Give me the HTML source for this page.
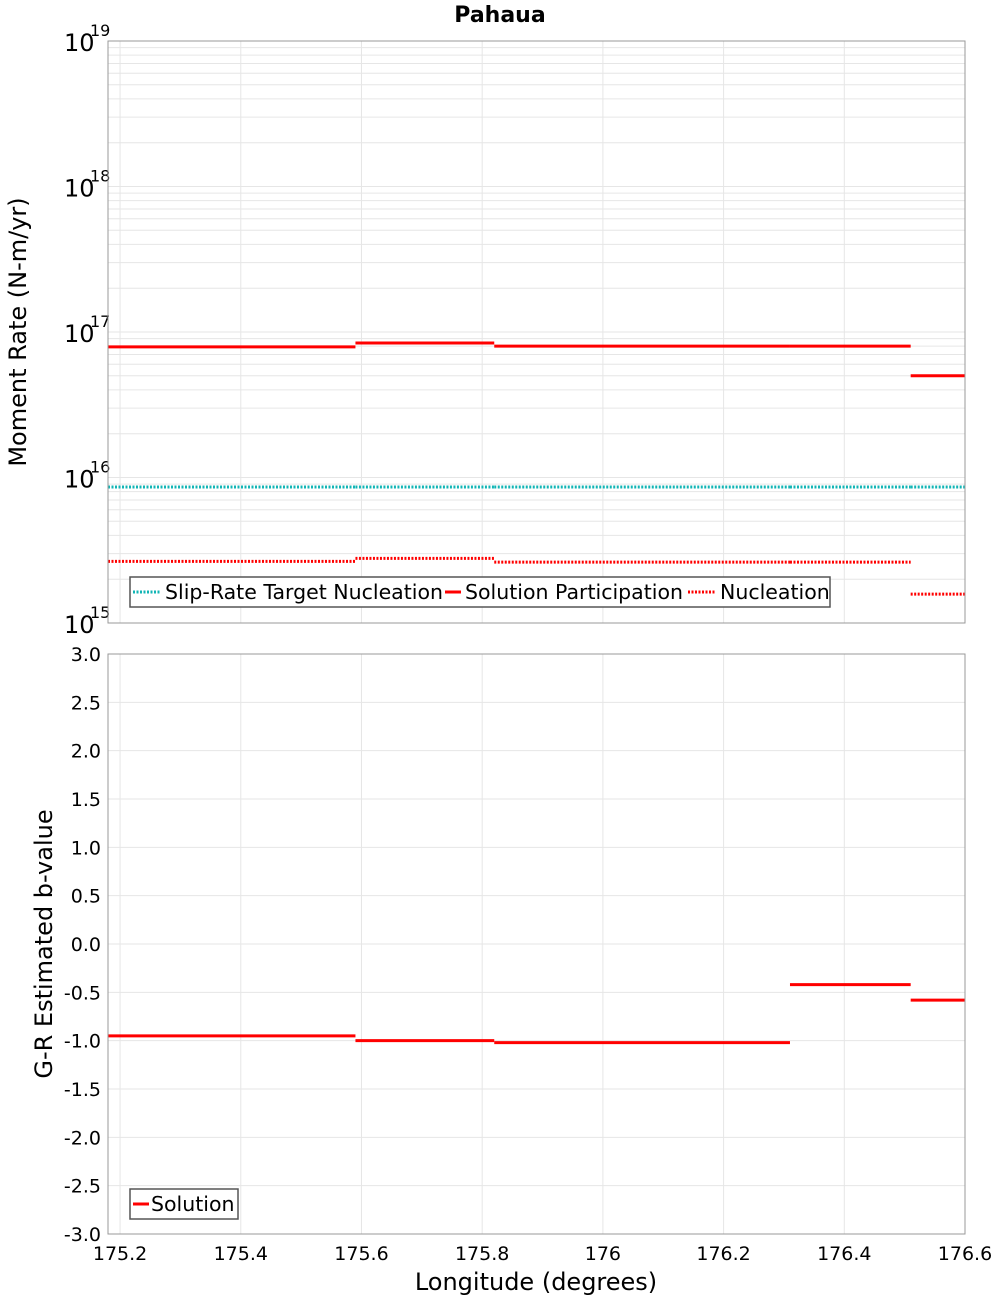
<!DOCTYPE html>
<html><head><meta charset="utf-8"><style>
body{margin:0;background:#fff;font-family:"DejaVu Sans","Liberation Sans",sans-serif}
svg{display:block}
</style></head><body>
<svg id="chart" width="1000" height="1300" xmlns="http://www.w3.org/2000/svg" font-family="DejaVu Sans, Liberation Sans, sans-serif"></svg>
<script>
const segStarts=[175.18,175.59,175.82,176.31,176.51];
const segEnds=[175.59,175.82,176.31,176.51,176.60];
const participation=[7.9e16,8.4e16,8.0e16,8.0e16,5.0e16];
const nucleation=[2.65e15,2.78e15,2.62e15,2.62e15,1.58e15];
const targetNucleation=[8.6e15,8.6e15,8.6e15,8.6e15,8.6e15];
const bValues=[-0.95,-1.0,-1.02,-0.42,-0.58];
const xTicks=[175.2,175.4,175.6,175.8,176,176.2,176.4,176.6];
const xTickLabels=["175.2","175.4","175.6","175.8","176","176.2","176.4","176.6"];
const bTicks=[3,2.5,2,1.5,1,0.5,0,-0.5,-1,-1.5,-2,-2.5,-3];
const bTickLabels=["3.0","2.5","2.0","1.5","1.0","0.5","0.0","-0.5","-1.0","-1.5","-2.0","-2.5","-3.0"];
const logDecades=[15,16,17,18,19];

const svg=document.getElementById('chart');
const NS='http://www.w3.org/2000/svg';
const L=108,R=965,T1=41,B1=623,T2=654,B2=1234;
const X0=175.18,X1=176.60;
const xs=v=>L+(v-X0)/(X1-X0)*(R-L);
const ys1=v=>B1-(Math.log10(v)-15)/4*(B1-T1);
const ys2=v=>T2+(3-v)/6*(B2-T2);
function mk(tag,attrs,parent){const e=document.createElementNS(NS,tag);for(const k in attrs)e.setAttribute(k,attrs[k]);(parent||svg).appendChild(e);return e;}
function txt(s,attrs){const e=mk('text',attrs);e.textContent=s;return e;}

let e=mk('rect',{x:L,y:T1,width:R-L,height:B1-T1,fill:'#fff'});


e=mk('rect',{x:L,y:T2,width:R-L,height:B2-T2,fill:'#fff'});



for(let d=15;d<19;d++){for(let m=1;m<=10;m++){const y=ys1(m*Math.pow(10,d));
 e=mk('line',{x1:L,x2:R,y1:y,y2:y,stroke:'#e6e6e6','stroke-width':1});
 
 }}
xTicks.forEach(v=>{const x=xs(v);
 e=mk('line',{x1:x,x2:x,y1:T1,y2:B1,stroke:'#e6e6e6'});
 
 
 e=mk('line',{x1:x,x2:x,y1:T2,y2:B2,stroke:'#e6e6e6'});
 
 });
bTicks.forEach((v,i)=>{const y=ys2(v);
 e=mk('line',{x1:L,x2:R,y1:y,y2:y,stroke:'#e6e6e6'});
 
 
 e=txt(bTickLabels[i],{x:L-7,y:y+7,'text-anchor':'end','font-size':19,fill:'#000'});
 
 });

logDecades.forEach(d=>{const y=ys1(Math.pow(10,d));
 e=txt('10',{x:64,y:y+10,'font-size':24,fill:'#000'});
 
 
 e=txt(String(d),{x:90,y:y-5,'font-size':16,fill:'#000'});
 
 });

xTicks.forEach((v,i)=>{
 e=txt(xTickLabels[i],{x:xs(v),y:1260,'text-anchor':'middle','font-size':19,fill:'#000'});
 
 });

function seg(arr,scale,color,dash,name){arr.forEach((v,i)=>{
 const a={x1:xs(segStarts[i]),x2:xs(segEnds[i]),y1:scale(v),y2:scale(v),stroke:color,'stroke-width':3};
 if(dash)a['stroke-dasharray']=dash;
 const l=mk('line',a);
 
 });}
seg(targetNucleation,ys1,'#11b5b5','2 1.5','target-nucleation-line');
seg(nucleation,ys1,'#ff0000','2 1.5','nucleation-line');
seg(participation,ys1,'#ff0000',null,'participation-line');
seg(bValues,ys2,'#ff0000',null,'b-value-line');

e=mk('rect',{x:L,y:T1,width:R-L,height:B1-T1,fill:'none',stroke:'#999'});


e=mk('rect',{x:L,y:T2,width:R-L,height:B2-T2,fill:'none',stroke:'#999'});



e=txt('Pahaua',{x:500,y:22,'text-anchor':'middle','font-size':22,'font-weight':'bold'});


e=txt('Moment Rate (N-m/yr)',{x:0,y:0,'text-anchor':'middle','font-size':24,transform:'translate(26,332) rotate(-90)'});


e=txt('G-R Estimated b-value',{x:0,y:0,'text-anchor':'middle','font-size':24,transform:'translate(52,944) rotate(-90)'});


e=txt('Longitude (degrees)',{x:536,y:1290,'text-anchor':'middle','font-size':24});



const lg=mk('g',{});


mk('rect',{x:130,y:577,width:700,height:30,fill:'#fff',stroke:'#555','stroke-width':1.5},lg);
mk('line',{x1:133,x2:161,y1:592,y2:592,stroke:'#11b5b5','stroke-width':3,'stroke-dasharray':'2 1.5'},lg);
let t=mk('text',{x:165,y:599,'font-size':20.5},lg);t.textContent='Slip-Rate Target Nucleation';
mk('line',{x1:445,x2:461,y1:592,y2:592,stroke:'#f00','stroke-width':3},lg);
t=mk('text',{x:465,y:599,'font-size':20.5},lg);t.textContent='Solution Participation';
mk('line',{x1:688,x2:716,y1:592,y2:592,stroke:'#f00','stroke-width':3,'stroke-dasharray':'2 1.5'},lg);
t=mk('text',{x:720,y:599,'font-size':20.5},lg);t.textContent='Nucleation';
const lg2=mk('g',{});


mk('rect',{x:130,y:1189,width:108,height:30,fill:'#fff',stroke:'#555','stroke-width':1.5},lg2);
mk('line',{x1:133,x2:149,y1:1204,y2:1204,stroke:'#f00','stroke-width':3},lg2);
t=mk('text',{x:151,y:1211,'font-size':20.5},lg2);t.textContent='Solution';
</script>
</body></html>
